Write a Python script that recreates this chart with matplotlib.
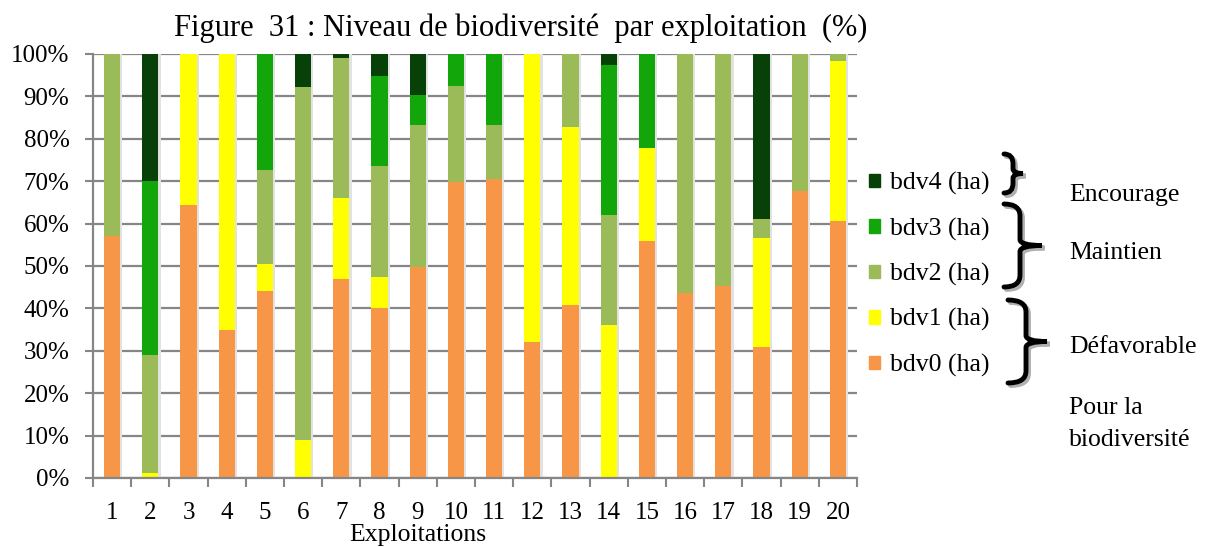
import numpy as np
import matplotlib
matplotlib.use('Agg')
import matplotlib.pyplot as plt
from matplotlib.path import Path
from matplotlib.patches import PathPatch, Patch

plt.rcParams['font.family'] = ['Liberation Serif', 'DejaVu Serif']

farms = [str(i) for i in range(1, 21)]
bdv0 = [57.0, 0.0, 64.5, 34.8, 44.2, 0.0, 46.9, 40.2, 49.7, 69.9,
        70.5, 32.0, 40.7, 0.0, 56.0, 43.7, 45.4, 31.0, 67.6, 60.5]
bdv1 = [0.0, 1.2, 35.5, 65.2, 6.3, 9.0, 19.2, 7.1, 0.0, 0.0,
        0.0, 68.0, 42.2, 36.1, 21.9, 0.0, 0.0, 25.6, 0.0, 37.9]
bdv2 = [43.0, 27.9, 0.0, 0.0, 22.2, 83.3, 33.0, 26.4, 33.6, 22.6,
        12.8, 0.0, 17.1, 26.0, 0.0, 56.3, 54.6, 4.5, 32.4, 1.6]
bdv3 = [0.0, 41.0, 0.0, 0.0, 27.3, 0.0, 0.0, 21.2, 7.1, 7.5,
        16.7, 0.0, 0.0, 35.2, 22.1, 0.0, 0.0, 0.0, 0.0, 0.0]
bdv4 = [0.0, 29.9, 0.0, 0.0, 0.0, 7.7, 0.9, 5.1, 9.6, 0.0,
        0.0, 0.0, 0.0, 2.7, 0.0, 0.0, 0.0, 38.9, 0.0, 0.0]
series = [bdv0, bdv1, bdv2, bdv3, bdv4]
labels = ['bdv0 (ha)', 'bdv1 (ha)', 'bdv2 (ha)', 'bdv3 (ha)', 'bdv4 (ha)']
colors = ['#F79646', '#FFFF00', '#9BBB59', '#12A60A', '#074108']
yticks = np.arange(0, 101, 10)

W, H = 1217, 547
fig = plt.figure(figsize=(W / 100, H / 100), dpi=100)


def fx(x):
    return x / W


def fy(y):
    return 1 - y / H


ax = fig.add_axes([fx(93), fy(478), fx(857) - fx(93), fy(54) - fy(478)])
x = np.arange(len(farms))
width = 0.42

# light shadow to the right of each bar
ax.bar(x + 0.06, 100, width, color='#e2e2e2', zorder=1.5)

bottom = np.zeros(len(farms))
for vals, lab, col in zip(series, labels, colors):
    vals = np.array(vals)
    ax.bar(x, vals, width, bottom=bottom, color=col, label=lab, zorder=2)
    bottom += vals

ax.set_xlim(-0.5, len(farms) - 0.5)
ax.set_ylim(0, 100)
ax.set_yticks(yticks)
ax.set_yticklabels([f'{v}%' for v in yticks], fontsize=18)
ax.set_xticks(x)
ax.set_xticklabels(farms, fontsize=18)
ax.set_xticks(np.arange(-0.5, len(farms), 1), minor=True)
ax.tick_params(axis='x', which='major', length=0, pad=17)
ax.tick_params(axis='x', which='minor', length=6.5, width=1.5, color='#868686')
ax.tick_params(axis='y', length=6, width=1.5, color='#868686', pad=11)
ax.yaxis.grid(True, color='#868686', lw=1.6, zorder=1)
ax.set_axisbelow(True)
for s in ['top', 'right']:
    ax.spines[s].set_visible(False)
for s in ['left', 'bottom']:
    ax.spines[s].set_color('#868686')
    ax.spines[s].set_linewidth(1.6)

fig.text(fx(521), fy(28), 'Figure  31 : Niveau de biodiversité  par exploitation  (%)',
         ha='center', va='center', fontsize=22)
fig.text(fx(418), fy(535), 'Exploitations', ha='center', va='center', fontsize=18.5)

# legend (reverse order, top = bdv4)
handles = [Patch(color=c) for c in colors][::-1]
fig.legend(handles, labels[::-1], loc='upper left', bbox_to_anchor=(fx(869), fy(172)),
           frameon=False, fontsize=18.5, handlelength=0.43, handleheight=0.43,
           handletextpad=0.4, labelspacing=0.87, borderpad=0, borderaxespad=0)


def brace(x0, top, bot, xm, tip, lw=3.5):
    mid = (top + bot) / 2
    r = min(12, (bot - top) / 4)
    pts = [(x0, top), (xm, top), (xm, top + r),
           (xm, mid - r / 2), (xm, mid), (tip, mid),
           (xm, mid), (xm, mid + r / 2), (xm, bot - r),
           (xm, bot), (x0, bot)]
    codes = [Path.MOVETO, Path.CURVE3, Path.CURVE3,
             Path.LINETO, Path.CURVE3, Path.CURVE3,
             Path.CURVE3, Path.CURVE3, Path.LINETO,
             Path.CURVE3, Path.CURVE3]
    for off, col in [(2.5, '#b0b0b0'), (0, 'black')]:
        p = Path([(fx(a + off), fy(b + off)) for a, b in pts], codes)
        fig.add_artist(PathPatch(p, fill=False, lw=lw, ec=col,
                                 transform=fig.transFigure, capstyle='round'))


brace(1004, 154, 193, 1013, 1023)
brace(1004, 204, 287, 1020, 1042)
brace(1008, 300, 383, 1026, 1047)

notes = [('Encourage', 195), ('Maintien', 253), ('Défavorable', 347),
         ('Pour la', 408), ('biodiversité', 440)]
for txt, yy in notes:
    fig.text(fx(1069), fy(yy), txt, ha='left', va='center', fontsize=18.5)

fig.savefig('out.png', dpi=100)
